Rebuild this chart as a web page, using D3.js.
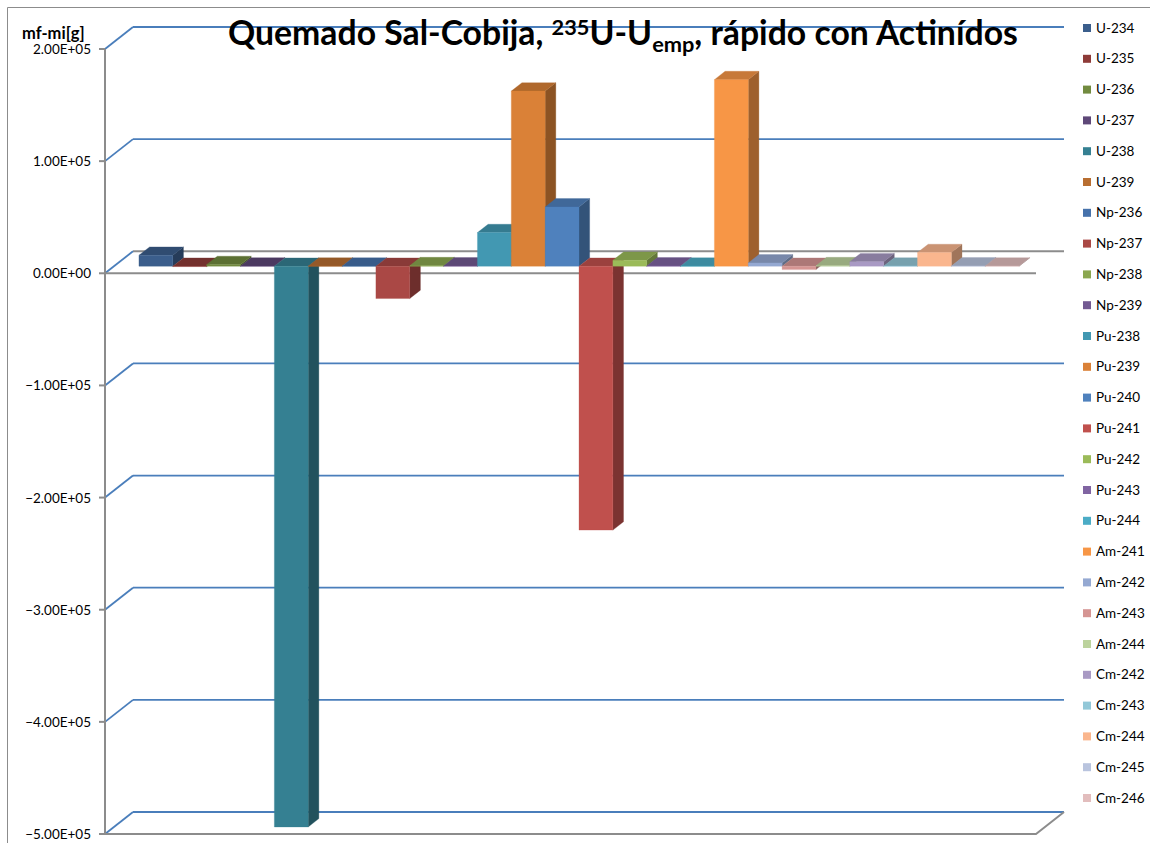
<!DOCTYPE html>
<html>
<head>
<meta charset="utf-8">
<script src="https://cdn.jsdelivr.net/npm/d3@7"></script>
<style>
  html, body { margin: 0; padding: 0; background: #fff; }
  svg { display: block; }
  text { font-family: Lato, "Open Sans", "DejaVu Sans", sans-serif; fill: #000; }
</style>
</head>
<body>
<script>
// ---------------- data ----------------
const isotopes = ["U-234","U-235","U-236","U-237","U-238","U-239","Np-236","Np-237","Np-238","Np-239",
  "Pu-238","Pu-239","Pu-240","Pu-241","Pu-242","Pu-243","Pu-244","Am-241","Am-242","Am-243","Am-244",
  "Cm-242","Cm-243","Cm-244","Cm-245","Cm-246"];
const massChange = [9800, -300, 1500, 200, -500000, 100, 100, -28800, 500, 300,
  30000, 156200, 52900, -235300, 5300, 300, 100, 166400, 3000, -3000, 500,
  4000, 200, 12200, 300, 200];
const seriesColors = ["#3B5E8C","#8E3B38","#728B3F","#5E4878","#358092","#B86E31","#4672AB","#AA4845","#8BA74F","#735A92",
  "#4298B2","#DA8137","#4F81BD","#C0504D","#9BBB59","#8064A2","#4BACC6","#F79646","#95A9D2","#D59593","#BCD39D",
  "#A99AC4","#93C8D8","#FAB68E","#B9C4DE","#E2BDBD"];
const yTickValues = [200000, 100000, 0, -100000, -200000, -300000, -400000, -500000];
const yTitle = "mf-mi[g]";

// ---------------- layout ----------------
const W = 1150, H = 843;
const svg = d3.select("body").append("svg").attr("width", W).attr("height", H);
svg.append("rect").attr("width", W).attr("height", H).attr("fill", "#fff");

const DX = 28, DY = 22;           // depth vector (front -> back)
const F0 = 0.32, F1 = 0.70;       // bar depth range
const floorX0 = 105, floorX1 = 1036;
const yFront = d3.scaleLinear().domain([-500000, 200000]).range([834, 49]);
const x = d3.scaleBand().domain(isotopes).range([130, 1010.1]).padding(0);
const P = (xf, v, f) => [xf + DX * f, yFront(v) - DY * f];

const blue = "#4A7EBB", gray = "#8C8C8C";

// chart area border
svg.append("path").attr("d", `M7.5,${H} V7.5 H${W}`).attr("fill", "none").attr("stroke", "#8C8C8C").attr("stroke-width", 1);

// back wall gridlines + left wall diagonals
const grid = svg.append("g");
yTickValues.forEach(t => {
  const yb = yFront(t) - DY;
  grid.append("line").attr("x1", floorX0 + DX).attr("x2", floorX1 + DX).attr("y1", yb).attr("y2", yb)
    .attr("stroke", t === 0 ? gray : blue).attr("stroke-width", t === 0 ? 2 : 1.8);
  grid.append("line").attr("x1", floorX0).attr("y1", yFront(t)).attr("x2", floorX0 + DX).attr("y2", yb)
    .attr("stroke", blue).attr("stroke-width", 1.8);
});

// floor at bottom
const yb0 = yFront(-500000);
svg.append("path").attr("d", `M${floorX0},${yb0} H${floorX1} L${floorX1 + DX},${yb0 - DY}`)
  .attr("fill", "none").attr("stroke", gray).attr("stroke-width", 2);

// zero plane front line
svg.append("line").attr("x1", floorX0).attr("x2", floorX1).attr("y1", yFront(0)).attr("y2", yFront(0))
  .attr("stroke", gray).attr("stroke-width", 2);

// y axis
svg.append("line").attr("x1", floorX0).attr("x2", floorX0).attr("y1", yFront(200000)).attr("y2", yb0)
  .attr("stroke", gray).attr("stroke-width", 2);
const fmt = v => {
  const s = d3.format(".2e")(v);             // e.g. 2.00e+5
  const [m, e] = s.split("e");
  const sign = e[0] === "-" ? "-" : "+";
  const ex = e.replace(/^[+-]/, "").padStart(2, "0");
  return m + "E" + sign + ex;
};
const yAxisG = svg.append("g");
yTickValues.forEach(t => {
  yAxisG.append("line").attr("x1", floorX0 - 6).attr("x2", floorX0).attr("y1", yFront(t)).attr("y2", yFront(t))
    .attr("stroke", gray).attr("stroke-width", 2);
  yAxisG.append("text").attr("x", 91).attr("y", yFront(t) + 5).attr("text-anchor", "end")
    .attr("font-size", 13.5).text(fmt(t));
});

// bars (3D look)
const bars = svg.append("g");
isotopes.forEach((iso, i) => {
  const v = massChange[i];
  const c = d3.color(seriesColors[i]);
  const xa = x(iso), xb = xa + x.bandwidth();
  const vt = Math.max(0, v);
  const poly = pts => "M" + pts.map(p => p.join(",")).join("L") + "Z";
  const g = bars.append("g");
  // side face
  g.append("path").attr("d", poly([P(xb, 0, F0), P(xb, v, F0), P(xb, v, F1), P(xb, 0, F1)]))
    .attr("fill", c.darker(1.25)).attr("stroke", c.darker(1.25)).attr("stroke-width", 0.3);
  // top face
  g.append("path").attr("d", poly([P(xa, vt, F0), P(xb, vt, F0), P(xb, vt, F1), P(xa, vt, F1)]))
    .attr("fill", c.darker(0.6)).attr("stroke", c.darker(0.6)).attr("stroke-width", 0.3);
  // front face
  g.append("path").attr("d", poly([P(xa, 0, F0), P(xb, 0, F0), P(xb, v, F0), P(xa, v, F0)]))
    .attr("fill", c).attr("stroke", c).attr("stroke-width", 0.3);
});

// y axis title
svg.append("text").attr("x", 22).attr("y", 39).attr("font-size", 16.5).attr("font-weight", "bold").text(yTitle);

// title
const title = svg.append("text").attr("x", 228).attr("y", 45).attr("font-weight", "bold").attr("font-size", 31);
title.append("tspan").text("Quemado Sal-Cobija, ");
title.append("tspan").attr("font-size", 20).attr("dy", -10).text("235");
title.append("tspan").attr("dy", 10).text("U-U");
title.append("tspan").attr("font-size", 20).attr("dy", 7).text("emp");
title.append("tspan").attr("dy", -7).text(", rápido con Actinídos");
const tw = title.node().getComputedTextLength();
const k = 790 / tw;
title.attr("font-size", 31 * k);
title.selectAll("tspan").filter(function() { return this.getAttribute("font-size") === "20"; })
  .attr("font-size", 20 * k);

// legend
const leg = svg.append("g");
isotopes.forEach((iso, i) => {
  const yy = 28 + i * 30.8;
  leg.append("rect").attr("x", 1083).attr("y", yy - 4).attr("width", 8).attr("height", 8).attr("fill", seriesColors[i]);
  leg.append("text").attr("x", 1096).attr("y", yy + 4.5).attr("font-size", 13.5).text(iso);
});
</script>
</body>
</html>
